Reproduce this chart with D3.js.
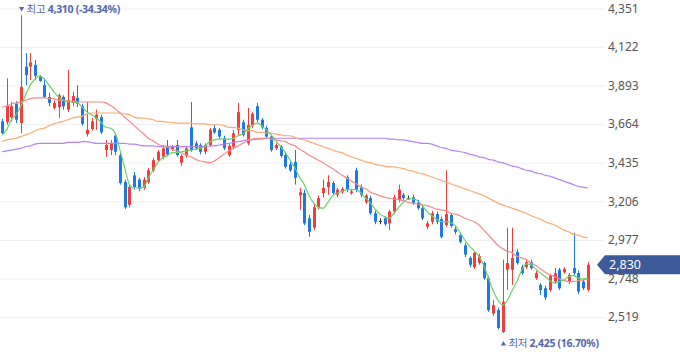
<!DOCTYPE html>
<html><head><meta charset="utf-8">
<script src="https://cdn.jsdelivr.net/npm/d3@7"></script>
<style>html,body{margin:0;padding:0;background:#fff}svg{display:block}</style>
</head><body>
<svg id="chart" width="680" height="358"></svg>
<script>
// ---- data (daily candles, oldest -> newest) ----
const opens = [3680,3675,3705,3785,3670,4005,4005,4015,3945,3895, 3825,3760,3765,3825,3750,3790,3820,3770,3605,3635, 3695,3705,3510,3510,3595,3480,3320,3185,3360,3335, 3285,3320,3390,3450,3470,3535,3515,3540,3435,3475, 3645,3550,3540,3500,3540,3640,3630,3580,3480,3530, 3630,3675,3550,3655,3770,3690,3640,3590,3520,3530, 3480,3425,3440,3240,3255,3105,3050,3170,3255,3290, 3315,3245,3260,3350,3255,3390,3290,3200,3225,3135, 3090,3105,3075,3145,3215,3245,3225,3230,3200,3165, 3055,3085,3130,3100,3065,3125,3040,3005,2945,2870, 2815,2840,2840,2750,2540,2560,2430,2800,2800,2905, 2815,2815,2845,2750,2710,2690,2680,2730,2800,2785, 2730,2810,2780,2730,2680];
const highs = [3695,3935,3795,3800,4310,4085,4085,4045,3955,3935, 3850,3805,3845,3835,3985,3855,3895,3785,3795,3700, 3750,3720,3570,3570,3605,3495,3335,3305,3380,3345, 3350,3405,3465,3510,3540,3570,3540,3570,3485,3535, 3795,3565,3550,3550,3640,3660,3640,3595,3545,3630, 3790,3690,3760,3735,3790,3700,3655,3600,3550,3540, 3495,3440,3510,3285,3275,3125,3195,3240,3335,3360, 3325,3285,3290,3360,3280,3405,3305,3250,3240,3150, 3105,3120,3155,3245,3305,3255,3240,3245,3215,3180, 3090,3150,3145,3115,3390,3135,3055,3020,2960,2880, 2910,2895,2850,2765,2620,2575,2860,3050,3050,2920, 2830,2860,2860,2795,2720,2705,2775,2810,2810,2815, 2780,3020,2795,2740,2845];
const lows = [3600,3660,3680,3670,3610,3895,3925,3925,3915,3820, 3770,3750,3700,3750,3735,3770,3765,3655,3590,3625, 3630,3605,3470,3480,3480,3305,3160,3170,3275,3265, 3275,3310,3380,3440,3455,3475,3505,3470,3415,3465, 3500,3510,3485,3485,3530,3605,3575,3510,3470,3515, 3600,3590,3540,3640,3675,3635,3575,3500,3510,3465, 3400,3380,3305,3155,3065,2995,3035,3160,3230,3245, 3245,3230,3250,3260,3245,3260,3230,3190,3125,3070, 3070,3060,3035,3130,3200,3215,3215,3185,3155,3095, 3040,3070,3070,2985,3055,3050,3010,2955,2875,2815, 2805,2830,2740,2550,2525,2445,2425,2680,2710,2830, 2770,2805,2800,2740,2650,2620,2670,2715,2680,2775, 2715,2770,2655,2680,2670];
const closes = [3610,3775,3770,3690,3885,3955,4030,3950,3920,3825, 3790,3790,3835,3770,3805,3830,3785,3665,3630,3680, 3720,3615,3540,3550,3500,3315,3170,3290,3290,3280, 3335,3390,3450,3500,3520,3485,3530,3480,3475,3520, 3510,3520,3500,3540,3630,3615,3590,3520,3535,3610, 3735,3600,3660,3725,3690,3645,3590,3510,3540,3475, 3410,3390,3345,3260,3075,3025,3170,3225,3285,3320, 3255,3275,3280,3275,3265,3275,3245,3240,3135,3085, 3090,3070,3145,3230,3275,3225,3225,3195,3165,3105, 3075,3135,3085,2995,3130,3060,3025,2965,2890,2830, 2900,2880,2750,2560,2590,2455,2610,2840,2870,2840, 2780,2845,2810,2780,2680,2635,2765,2780,2690,2805, 2770,2780,2670,2690,2830];

// moving-average lines
const ma5 = [3600,3630,3690,3720,3770,3835,3895,3930,3950,3930, 3895,3855,3825,3805,3795,3795,3790,3765,3735,3720, 3700,3675,3645,3640,3610,3510,3405,3305,3285,3285, 3290,3345,3390,3435,3465,3475,3495,3495,3500,3505, 3510,3515,3520,3535,3560,3570,3575,3575,3575,3580, 3595,3605,3635,3655,3670,3655,3630,3600,3565,3530, 3495,3450,3405,3350,3305,3240,3195,3170,3165,3200, 3240,3255,3265,3275,3275,3275,3255,3225,3195,3160, 3130,3115,3105,3135,3170,3200,3220,3220,3210,3180, 3145,3120,3100,3085,3085,3080,3060,3020,2975,2940, 2910,2880,2825,2750,2675,2620,2590,2620,2675,2730, 2795,2835,2830,2805,2780,2760,2735,2720,2730,2740, 2760,2765,2750,2745,2750];
const ma20 = [3765,3770,3785,3790,3795,3805,3815,3820,3820,3820, 3815,3815,3805,3805,3800,3800,3795,3795,3795,3795, 3795,3795,3790,3775,3755,3730,3705,3680,3655,3630, 3605,3580,3565,3545,3535,3530,3515,3505,3495,3480, 3470,3455,3445,3440,3435,3445,3465,3485,3505,3520, 3535,3550,3565,3575,3580,3580,3580,3575,3570,3565, 3560,3545,3535,3515,3500,3480,3465,3450,3435,3415, 3400,3380,3360,3345,3325,3310,3290,3280,3260,3250, 3240,3230,3225,3220,3215,3210,3200,3195,3190,3185, 3180,3170,3160,3155,3150,3135,3130,3120,3105,3095, 3085,3065,3035,3005,2975,2945,2925,2910,2900,2880, 2870,2860,2840,2825,2805,2785,2770,2760,2745,2735, 2730,2730,2735,2740,2745];
const ma60 = [3560,3570,3575,3580,3590,3600,3610,3625,3635,3640, 3655,3665,3675,3680,3690,3700,3705,3710,3725,3730, 3730,3730,3730,3730,3730,3730,3725,3720,3705,3700, 3700,3695,3690,3680,3680,3675,3675,3670,3670,3670, 3670,3665,3665,3665,3660,3660,3660,3655,3645,3645, 3640,3630,3625,3625,3615,3615,3610,3610,3605,3600, 3595,3595,3585,3575,3570,3560,3550,3540,3530,3520, 3510,3500,3495,3480,3470,3460,3450,3440,3435,3425, 3420,3415,3410,3410,3405,3400,3390,3385,3375,3370, 3360,3350,3340,3330,3320,3310,3300,3290,3280,3270, 3260,3250,3240,3225,3210,3195,3185,3175,3165,3155, 3145,3135,3120,3110,3100,3085,3075,3065,3050,3035, 3025,3010,3005,2995,2990];
const ma120 = [3500,3505,3510,3515,3520,3530,3535,3545,3550,3550, 3550,3550,3550,3550,3555,3555,3555,3560,3560,3555, 3550,3550,3550,3550,3550,3550,3550,3545,3545,3540, 3535,3535,3535,3530,3530,3530,3530,3530,3530,3530, 3530,3530,3530,3530,3535,3535,3540,3545,3550,3555, 3560,3565,3570,3570,3575,3575,3580,3580,3580,3580, 3580,3580,3580,3580,3580,3580,3580,3580,3580,3580, 3580,3580,3580,3580,3580,3580,3580,3580,3580,3580, 3580,3580,3575,3575,3570,3570,3565,3560,3555,3550, 3550,3545,3535,3525,3520,3510,3505,3500,3495,3485, 3480,3470,3465,3455,3450,3440,3435,3425,3415,3410, 3400,3390,3385,3375,3370,3360,3355,3345,3335,3325, 3315,3305,3295,3290,3285];

const tickValues = [4351,4122,3893,3664,3435,3206,2977,2748,2519];
const labelHigh = "최고";
const labelLow = "최저";

// ---- drawing ----
const W = 680, H = 358;
const svg = d3.select("#chart");
const FONT = "'Noto Sans','Noto Sans CJK KR',sans-serif";
const RED = "#f23d3d", BLUE = "#1e78e6", DOJI = "#333333";
const LABEL = "#5467aa";

const idx = d3.range(closes.length);
const x = d3.scalePoint().domain(idx).range([1.9, 587.7]);
const y = d3.scaleLinear().domain([2519, 4351]).range([317.1, 8.3]);
const fmt = d3.format(",");

// axis with gridlines
const axis = d3.axisRight(y).tickValues(tickValues).tickFormat(fmt)
  .tickSizeInner(-604).tickSizeOuter(0).tickPadding(4);
const ax = svg.append("g").attr("transform", "translate(604,0)").call(axis);
ax.select(".domain").remove();
ax.selectAll(".tick line").attr("stroke", "#eff0f2").attr("stroke-width", 1);
ax.selectAll(".tick text").attr("fill", "#555").attr("font-size", "12px")
  .attr("font-family", FONT);

const color = i => closes[i] > opens[i] ? RED : (closes[i] < opens[i] ? BLUE : DOJI);

// candles
const cg = svg.append("g");
cg.selectAll("line").data(idx).join("line")
  .attr("x1", i => Math.round(x(i)) + 0.5).attr("x2", i => Math.round(x(i)) + 0.5)
  .attr("y1", i => y(highs[i])).attr("y2", i => y(lows[i]))
  .attr("stroke", color).attr("stroke-width", 1);
cg.selectAll("rect").data(idx).join("rect")
  .attr("x", i => Math.round(x(i)) - 1)
  .attr("width", 3)
  .attr("y", i => y(Math.max(opens[i], closes[i])))
  .attr("height", i => Math.max(1, Math.abs(y(opens[i]) - y(closes[i]))))
  .attr("fill", color);

// moving averages
const line = d3.line().x((d, i) => x(i)).y(d => y(d)).curve(d3.curveMonotoneX);
const mas = [
  {v: ma120, c: "#b384f2"},
  {v: ma60, c: "#f9ad74"},
  {v: ma20, c: "#f58b8b"},
  {v: ma5, c: "#6cd26a"}
];
svg.append("g").selectAll("path").data(mas).join("path")
  .attr("d", d => line(d.v)).attr("fill", "none")
  .attr("stroke", d => d.c).attr("stroke-width", 1.2);

// current price tag
const last = closes[closes.length - 1];
const py = y(last);
svg.append("path")
  .attr("d", `M597,${py} L605,${py - 9.5} L${W},${py - 9.5} L${W},${py + 9.5} L605,${py + 9.5} Z`)
  .attr("fill", "#3d5a99");
svg.append("text").attr("x", 609).attr("y", py).attr("dy", "0.35em")
  .attr("fill", "#fff").attr("font-size", "12.5px").attr("font-family", FONT)
  .text(fmt(last));

// high / low labels
const hi = d3.maxIndex(highs), lo = d3.minIndex(lows);
const pct = v => d3.format(".2f")(v).replace("\u2212", "-");
function marker(i, value, label, up, ty) {
  const cx = x(i) + 0.8;
  const tri = up
    ? `M${cx - 2.5},${ty + 2.5} L${cx + 2.5},${ty + 2.5} L${cx},${ty - 2} Z`
    : `M${cx - 2.5},${ty - 2} L${cx + 2.5},${ty - 2} L${cx},${ty + 2.5} Z`;
  svg.append("path").attr("d", tri).attr("fill", LABEL);
  const t = svg.append("text").attr("x", cx + 5).attr("y", ty).attr("dy", "0.35em")
    .attr("font-family", FONT).attr("font-size", "10.5px").attr("fill", LABEL)
    .attr("letter-spacing", "-0.3px");
  t.append("tspan").text(label + " ");
  t.append("tspan").attr("font-weight", "bold")
    .text(`${fmt(value)} (${pct((last / value - 1) * 100)}%)`);
}
marker(hi, highs[hi], labelHigh, false, 9);
marker(lo, lows[lo], labelLow, true, 343);
</script>
</body></html>
